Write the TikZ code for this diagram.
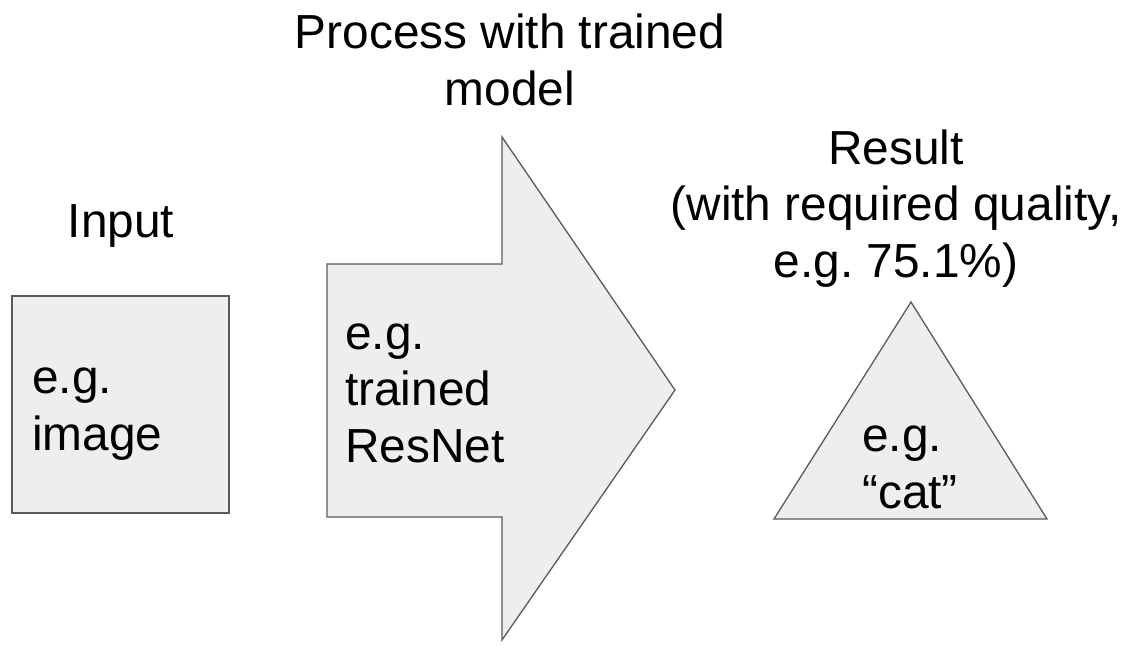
\documentclass[tikz,border=0pt]{standalone}
\usepackage{fontspec}
\setmainfont{Liberation Sans}
\begin{document}
\begin{tikzpicture}[x=1pt,y=-1pt,
  shapefill/.style={fill=shapegray,draw=edgegray,line width=1.3pt,line join=miter},
  label/.style={inner sep=0pt,font=\fontsize{47.8}{56.5}\selectfont,text=black},
  caption/.style={label,align=center,anchor=base},
  inside/.style={label,align=left,anchor=base west}]
\definecolor{shapegray}{HTML}{EEEEEE}
\definecolor{edgegray}{HTML}{5A5A5A}
\useasboundingbox (0,0) rectangle (1129,670);

% input square
\draw[shapefill] (12,296) rectangle (229,513);
% processing arrow
\draw[shapefill] (327,264) -- (502,264) -- (502,137) -- (675,390)
  -- (502,640) -- (502,517) -- (327,517) -- cycle;
% result triangle
\draw[shapefill] (911,302) -- (1047,519) -- (774,519) -- cycle;

% captions (positioned by the baseline of their last line)
\node[caption] (input) at (121,237) {Input};
\node[caption] (process) at (510,105) {Process with trained\\model};
\node[caption] (result) at (896,277) {Result\\(with required quality,\\e.g.\ 75.1\%)};

% texts inside shapes
\node[inside] (image) at (32,450) {e.g.\\image};
\node[inside] (resnet) at (345,462) {e.g.\\trained\\ResNet};
\node[inside] (cat) at (862,508) {e.g.\\“cat”};
\end{tikzpicture}
\end{document}
